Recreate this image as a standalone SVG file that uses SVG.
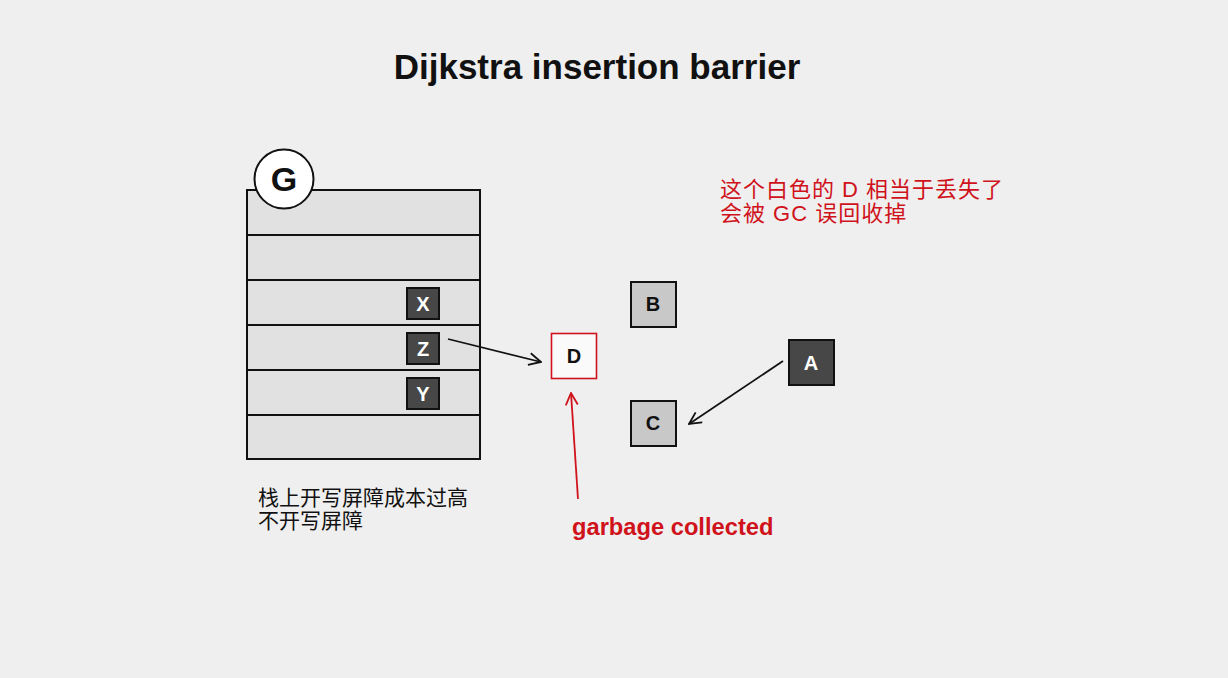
<svg xmlns="http://www.w3.org/2000/svg" width="1228" height="678" viewBox="0 0 1228 678">
<defs>
<style>
.row{fill:#e1e1e1;stroke:#111;stroke-width:2}
.dark{fill:#474747;stroke:#111;stroke-width:2}
.light{fill:#c8c8c8;stroke:#111;stroke-width:2}
.wl{font-family:"Liberation Sans",Arial,sans-serif;font-weight:bold;font-size:20px;fill:#fff;text-anchor:middle}
.bl{font-family:"Liberation Sans",Arial,sans-serif;font-weight:bold;font-size:20px;fill:#111;text-anchor:middle}
.cjk{font-family:"Liberation Sans","Noto Sans CJK SC",sans-serif}
.conn{stroke:#111;stroke-width:1.8;fill:none}
</style>
<marker id="ah" viewBox="0 0 14 14" refX="13" refY="7" markerWidth="14" markerHeight="14" markerUnits="userSpaceOnUse" orient="auto">
<path d="M1,1 L13,7 L1,13" fill="none" stroke="#111" stroke-width="1.8"/>
</marker>
<marker id="ahr" viewBox="0 0 14 14" refX="13" refY="7" markerWidth="14" markerHeight="14" markerUnits="userSpaceOnUse" orient="auto">
<path d="M1,1 L13,7 L1,13" fill="none" stroke="#d0121b" stroke-width="1.8"/>
</marker>
</defs>
<rect width="1228" height="678" fill="#efefef"/>
<text x="597" y="79" text-anchor="middle" font-family="Liberation Sans,Arial,sans-serif" font-weight="bold" font-size="35" fill="#111">Dijkstra insertion barrier</text>
<g id="stack">
<rect class="row" x="247" y="190" width="233" height="45"/>
<rect class="row" x="247" y="235" width="233" height="45"/>
<rect class="row" x="247" y="280" width="233" height="45"/>
<rect class="row" x="247" y="325" width="233" height="45"/>
<rect class="row" x="247" y="370" width="233" height="45"/>
<rect class="row" x="247" y="415" width="233" height="44"/>
</g>
<g id="G">
<circle cx="284" cy="179" r="29.5" fill="#fff" stroke="#111" stroke-width="2"/>
<text x="284" y="191" text-anchor="middle" font-family="Liberation Sans,Arial,sans-serif" font-weight="bold" font-size="34" fill="#111">G</text>
</g>
<g id="X"><rect class="dark" x="407" y="288" width="32" height="31"/><text class="wl" x="423" y="311">X</text></g>
<g id="Z"><rect class="dark" x="407" y="333" width="32" height="31"/><text class="wl" x="423" y="356">Z</text></g>
<g id="Y"><rect class="dark" x="407" y="378" width="32" height="31"/><text class="wl" x="423" y="401">Y</text></g>
<g id="D"><rect x="551.5" y="333.5" width="45" height="45" fill="#fafafa" stroke="#d0121b" stroke-width="1.6"/><text class="bl" x="574" y="363">D</text></g>
<g id="B"><rect class="light" x="631" y="282" width="45" height="45"/><text class="bl" x="653" y="311">B</text></g>
<g id="C"><rect class="light" x="631" y="401" width="45" height="45"/><text class="bl" x="653" y="430">C</text></g>
<g id="A"><rect class="dark" x="789" y="340" width="45" height="45"/><text class="wl" x="811" y="370">A</text></g>
<g id="connectors">
<line class="conn" x1="448" y1="339" x2="541" y2="362" marker-end="url(#ah)"/>
<line class="conn" x1="783" y1="361" x2="689" y2="424" marker-end="url(#ah)"/>
<line x1="578" y1="499" x2="571" y2="393" stroke="#d0121b" stroke-width="1.8" marker-end="url(#ahr)"/>
</g>
<g id="notes">
<text class="cjk" x="720" y="197" font-size="22" letter-spacing="1" fill="#d0121b">这个白色的 D 相当于丢失了</text>
<text class="cjk" x="720" y="221" font-size="22" letter-spacing="1" fill="#d0121b">会被 GC 误回收掉</text>
<text class="cjk" x="258" y="505" font-size="21" fill="#111">栈上开写屏障成本过高</text>
<text class="cjk" x="258" y="528" font-size="21" fill="#111">不开写屏障</text>
<text x="572" y="535" font-family="Liberation Sans,Arial,sans-serif" font-weight="bold" font-size="23.7" fill="#d0121b">garbage collected</text>
</g>
</svg>
